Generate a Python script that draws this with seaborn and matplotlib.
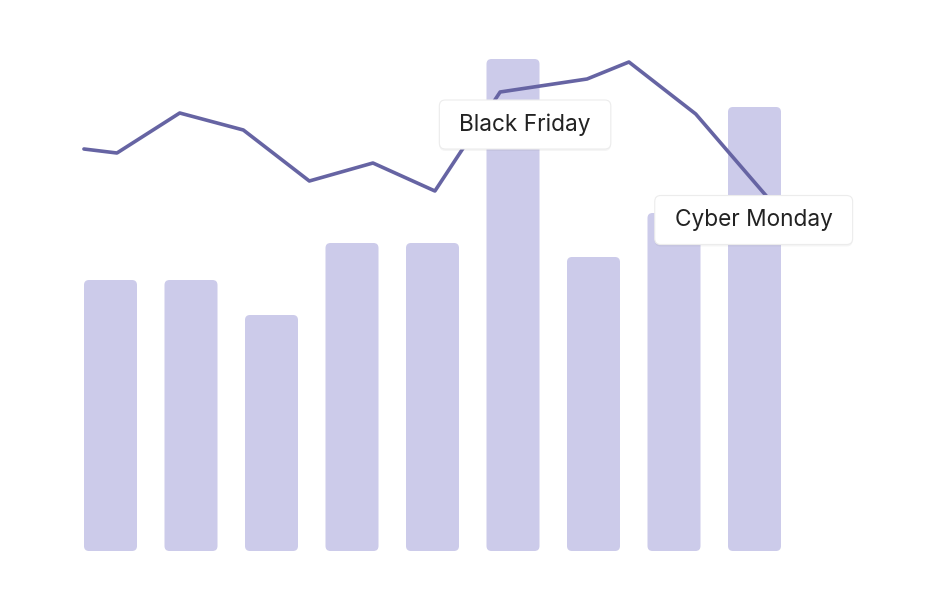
import matplotlib
matplotlib.use("Agg")
import matplotlib.pyplot as plt
from matplotlib.patches import FancyBboxPatch
import seaborn as sns
import pandas as pd

# ---- data ----
days = ["D1", "D2", "D3", "D4", "D5", "D6", "D7", "D8", "D9"]
orders = [271, 271, 236, 308, 308, 492, 294, 338, 444]
trend_x = [-0.33, 0.08, 0.86, 1.65, 2.47, 3.26, 4.03, 4.84, 5.92, 6.44, 7.27, 8.19]
trend_y = [402, 398, 438, 421, 370, 388, 360, 459, 472, 489, 437, 351]
labels = ["Black Friday", "Cyber Monday"]
label_x = [5.15, 7.99]
label_y = [426.5, 331]

BAR = "#cccbea"
LINE = "#6664a3"

sns.set_theme(style="white")
plt.rcParams["font.family"] = ["Inter", "DejaVu Sans"]

fig = plt.figure(figsize=(9.41, 6.11), dpi=100)
ax = fig.add_axes([0, 0, 1, 1])

df = pd.DataFrame({"day": days, "orders": orders})
sns.barplot(data=df, x="day", y="orders", color=BAR, saturation=1,
            width=53 / 80.5, ax=ax, zorder=1)

ax.set_xlim(-110.5 / 80.5, (941 - 110.5) / 80.5)
ax.set_ylim(-60, 551)

# rounded bars
aspect = 80.5
for p in list(ax.patches):
    x0, y0 = p.get_x(), p.get_y()
    w, h = p.get_width(), p.get_height()
    fb = FancyBboxPatch((x0, y0), w, h,
                        boxstyle="round,pad=0,rounding_size=%f" % (5 / 80.5),
                        mutation_aspect=aspect, fc=BAR, ec="none", zorder=1)
    p.remove()
    ax.add_patch(fb)

sns.lineplot(x=trend_x, y=trend_y, sort=False, color=LINE, lw=2.6,
             ax=ax, zorder=3, solid_joinstyle="round", solid_capstyle="round")

ax.set_axis_off()

# annotation boxes
fig.canvas.draw()
renderer = fig.canvas.get_renderer()
inv = ax.transData.inverted()
for lab, lx, ly in zip(labels, label_x, label_y):
    t = ax.text(lx, ly, lab, ha="center", va="center", fontsize=16.3,
                color="#222222", zorder=6)
    bb = t.get_window_extent(renderer)
    cx, cy = ax.transData.transform((lx, ly))
    bw = bb.width + 40
    bh = 49
    for dx, dy, fc, ec, al, z in [(0, -2, "#000000", "none", 0.04, 4),
                                  (0, 0, "white", "#ececec", 1, 5)]:
        (x0, y0) = inv.transform((cx - bw / 2 + dx, cy - bh / 2 + dy))
        (x1, y1) = inv.transform((cx + bw / 2 + dx, cy + bh / 2 + dy))
        box = FancyBboxPatch((x0, y0), x1 - x0, y1 - y0,
                             boxstyle="round,pad=0,rounding_size=%f" % (6 / 80.5),
                             mutation_aspect=aspect, fc=fc, ec=ec, lw=0.8,
                             alpha=al, zorder=z)
        ax.add_patch(box)

fig.savefig("out.png", dpi=100)
